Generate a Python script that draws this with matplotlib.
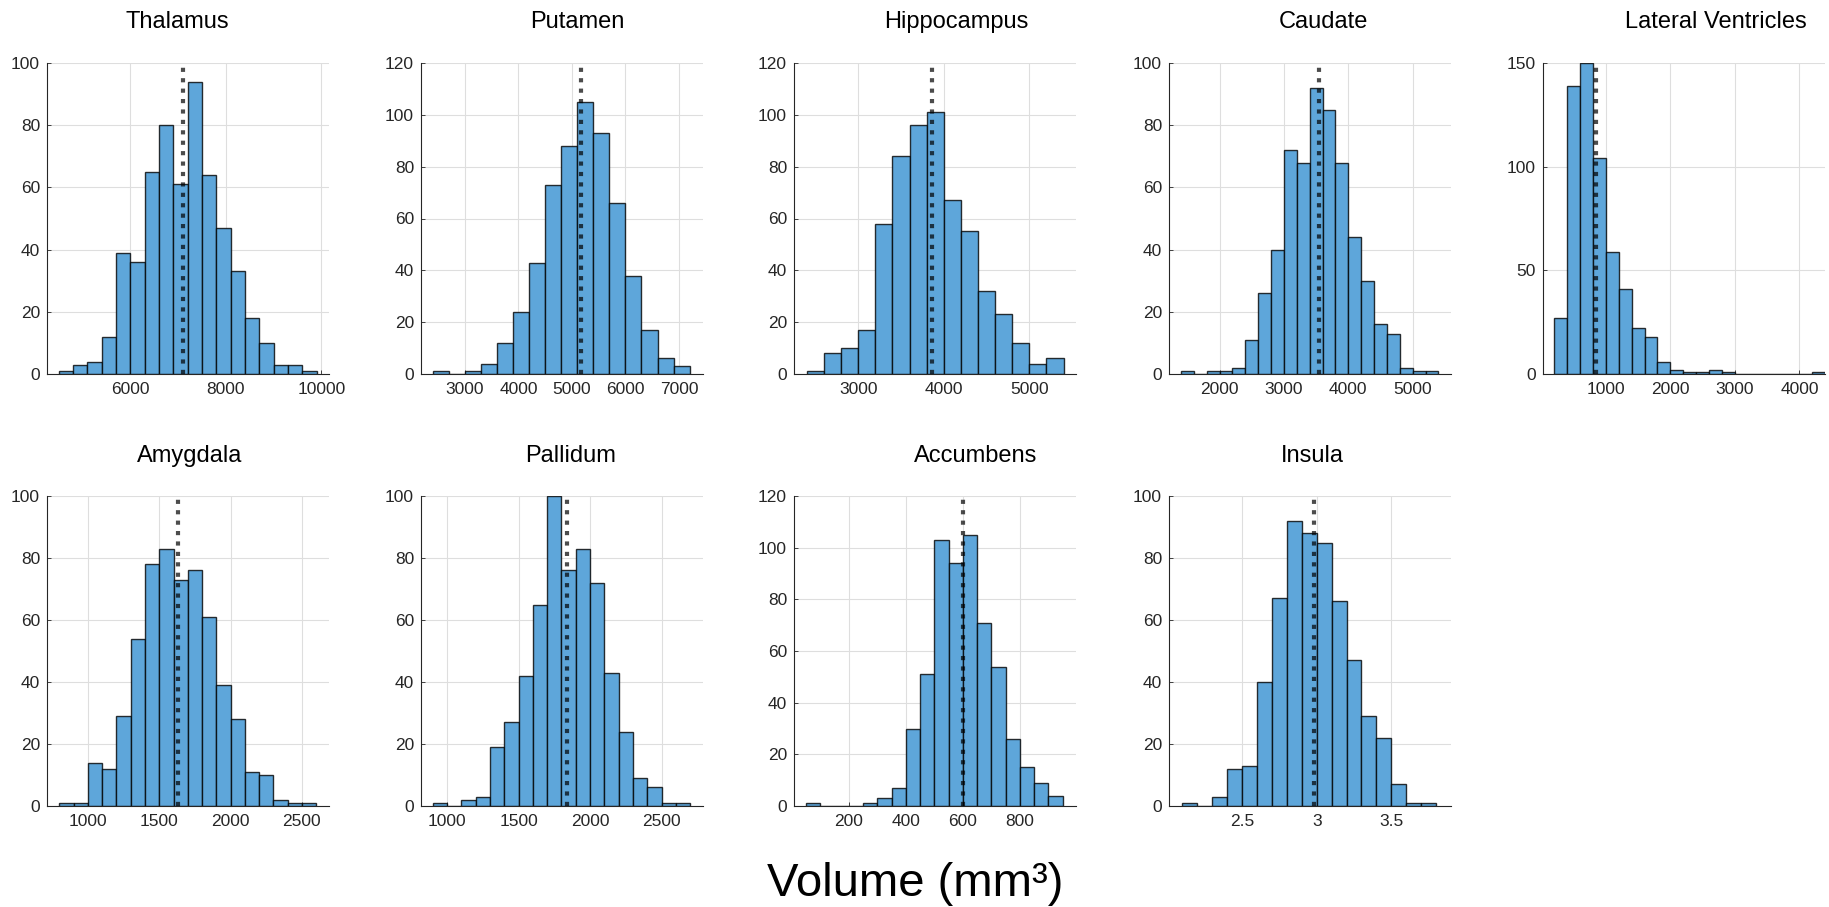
import matplotlib
matplotlib.use("Agg")
import numpy as np
import matplotlib.pyplot as plt
from matplotlib.ticker import FuncFormatter

# ============================== DADOS ==============================
REGIOES = ["Thalamus", "Putamen", "Hippocampus", "Caudate", "Lateral Ventricles",
           "Amygdala", "Pallidum", "Accumbens", "Insula"]

# inicio do primeiro bin e largura dos bins
BIN_INICIO = [4500, 2400, 2400, 1400, 200, 800, 900, 50, 2.1]
BIN_LARGURA = [300, 300, 200, 200, 200, 100, 100, 50, 0.1]

CONTAGENS = [
    [1, 3, 4, 12, 39, 36, 65, 80, 61, 94, 64, 47, 33, 18, 10, 3, 3, 1],
    [1, 0, 1, 4, 12, 24, 43, 73, 88, 105, 93, 66, 38, 17, 6, 3],
    [1, 8, 10, 17, 58, 84, 96, 101, 67, 55, 32, 23, 12, 4, 6],
    [1, 0, 1, 1, 2, 11, 26, 40, 72, 68, 92, 85, 68, 44, 30, 16, 13, 2, 1, 1],
    [27, 139, 150, 104, 59, 41, 22, 18, 6, 2, 1, 1, 2, 1, 0, 0, 0, 0, 0, 0, 1],
    [1, 1, 14, 12, 29, 54, 78, 83, 73, 76, 61, 39, 28, 11, 10, 2, 1, 1],
    [1, 0, 2, 3, 19, 27, 42, 65, 100, 76, 83, 72, 43, 24, 9, 6, 1, 1],
    [1, 0, 0, 0, 1, 3, 7, 30, 51, 103, 94, 105, 71, 54, 26, 15, 9, 4],
    [1, 0, 3, 12, 13, 40, 67, 92, 88, 85, 66, 47, 29, 22, 7, 1, 1],
]

MEDIAS = [7100, 5175, 3860, 3545, 850, 1633, 1838, 601, 2.98]

XTICKS = [
    [6000, 8000, 10000],
    [3000, 4000, 5000, 6000, 7000],
    [3000, 4000, 5000],
    [2000, 3000, 4000, 5000],
    [1000, 2000, 3000, 4000],
    [1000, 1500, 2000, 2500],
    [1000, 1500, 2000, 2500],
    [200, 400, 600, 800],
    [2.5, 3, 3.5],
]
YMAX = [100, 120, 120, 100, 150, 100, 100, 120, 100]
YPASSO = [20, 20, 20, 20, 50, 20, 20, 20, 20]
XLIMS = [(4255, 10160), (2180, 7450), (2250, 5545), (1215, 5595), (26, 4397),
         (713, 2690), (819, 2788), (7, 997), (2.01, 3.90)]

XLABEL = "Volume (mm³)"

# ============================== LAYOUT ==============================
W, H = 1829, 907
plt.rcParams['font.family'] = ['Liberation Sans', 'DejaVu Sans']

fig = plt.figure(figsize=(W / 100, H / 100), dpi=100)

lefts = [47, 421, 794, 1169, 1543]
linhas = [(63, 374), (496, 806)]
# centro dos titulos (px) e linha de base
titulo_x = [177, 577, 956, 1323, 1716, 190, 571, 976, 1312]
titulo_y = [28, 462]

COR_BARRA = '#5EA6DA'
COR_TEXTO = '#262626'

for i, nome in enumerate(REGIOES):
    row = 0 if i < 5 else 1
    col = i if i < 5 else i - 5
    top, bot = linhas[row]
    ax = fig.add_axes([lefts[col] / W, 1 - bot / H, 282 / W, (bot - top) / H])

    cont = np.array(CONTAGENS[i])
    bordas = BIN_INICIO[i] + BIN_LARGURA[i] * np.arange(len(cont))
    ax.bar(bordas, cont, width=BIN_LARGURA[i], align='edge',
           color=COR_BARRA, edgecolor=(0, 0, 0, 0.8), linewidth=1.0, zorder=2)
    ax.axvline(MEDIAS[i], color='black', alpha=0.7, linewidth=3.0,
               linestyle=(0, (1, 1.5)), dash_capstyle='butt', zorder=3)

    ax.set_xlim(*XLIMS[i])
    ax.set_ylim(0, YMAX[i])
    ax.set_xticks(XTICKS[i])
    ax.set_yticks(np.arange(0, YMAX[i] + 1, YPASSO[i]))
    ax.xaxis.set_major_formatter(FuncFormatter(lambda v, p: f"{v:g}"))

    ax.grid(True, color='#DEDEDE', linewidth=0.8, zorder=0)
    ax.set_axisbelow(True)
    for s in ['top', 'right']:
        ax.spines[s].set_visible(False)
    for s in ['left', 'bottom']:
        ax.spines[s].set_color(COR_TEXTO)
        ax.spines[s].set_linewidth(0.8)
    ax.tick_params(direction='in', length=3, width=0.6, colors=COR_TEXTO,
                   labelsize=12.5, labelcolor=COR_TEXTO)
    ax.tick_params(axis='x', pad=6)
    ax.tick_params(axis='y', pad=5)

    fig.text(titulo_x[i] / W, 1 - titulo_y[row] / H, nome, ha='center',
             va='baseline', fontsize=17, color='black')

fig.text(915 / W, 1 - 884 / H, XLABEL, ha='center', va='center', fontsize=34)

fig.savefig("out.png", dpi=100, facecolor='white')
